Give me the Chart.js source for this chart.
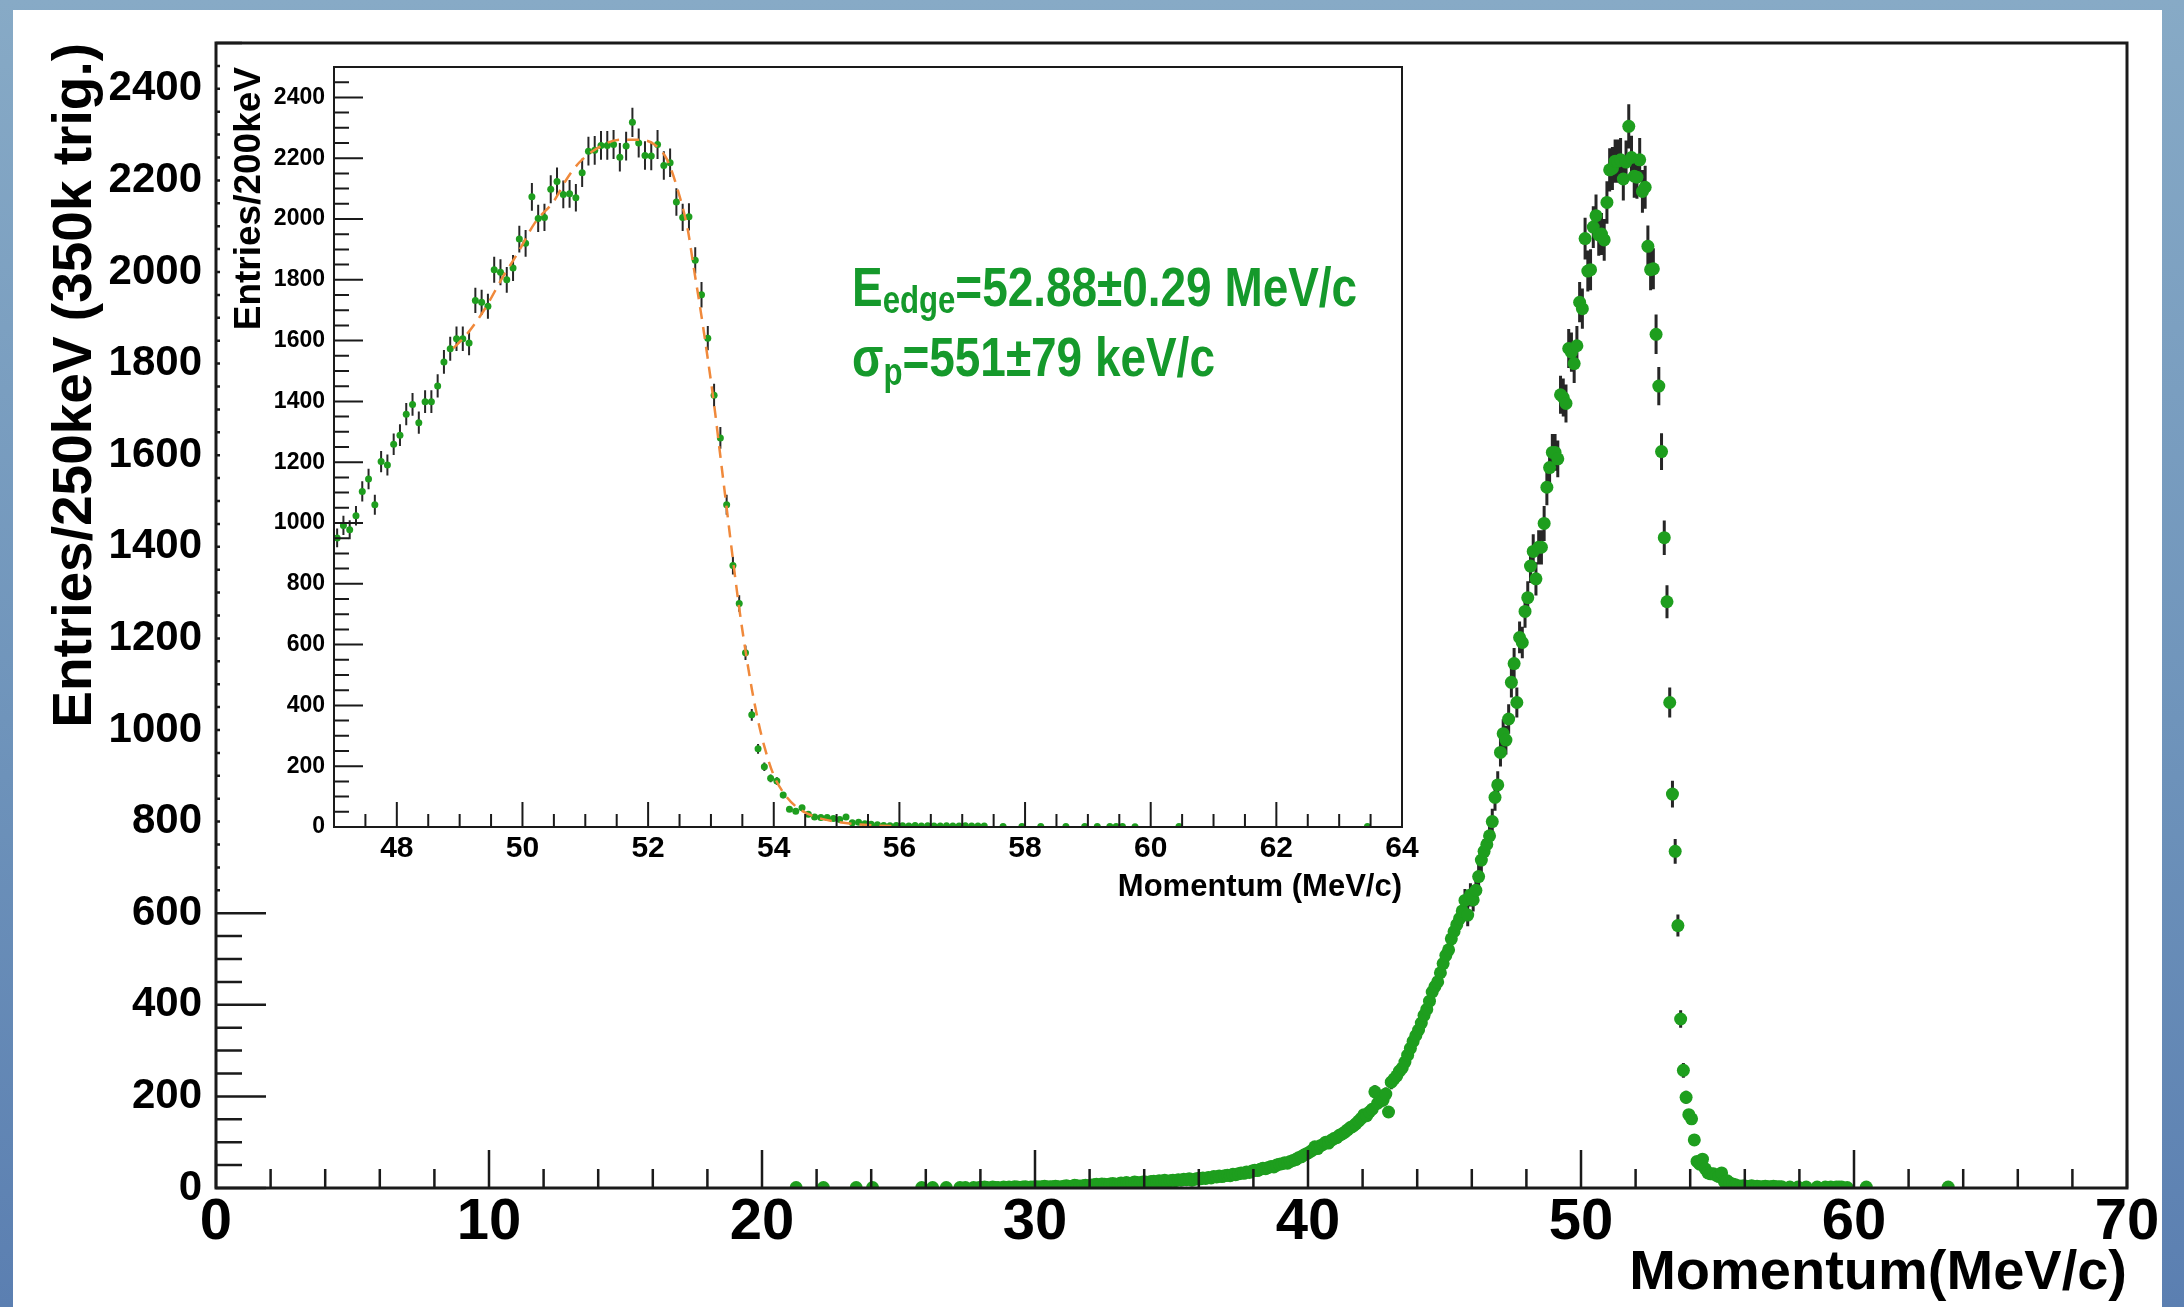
<!DOCTYPE html>
<html>
<head>
<meta charset="utf-8">
<script src="https://cdn.jsdelivr.net/npm/chart.js@4.4.0/dist/chart.umd.min.js"></script>
<style>
  html, body { margin: 0; padding: 0; }
  body {
    width: 2184px; height: 1307px; overflow: hidden; position: relative;
    background: linear-gradient(180deg, #87aac6 0%, #6f94bb 55%, #5b7fb1 100%);
  }
  #painel { position: absolute; left: 13px; top: 10px; width: 2149px; height: 1297px; background: #fff; }
  #graficoPrincipal { position: absolute; left: 0; top: 0; }
  #graficoZoom { position: absolute; left: 220px; top: 45px; background: #fff; }
</style>
</head>
<body>
<div id="painel"></div>
<canvas id="graficoPrincipal" width="2184" height="1307"></canvas>
<canvas id="graficoZoom" width="1200" height="865"></canvas>
<script>
// espectro de momento, bins de 100 keV a partir de 21.0 MeV/c (uma linha por MeV)
const inicioBins = 21.0;
const larguraBin = 0.1;
const contagens = [
  0, 0, 1, 0, 0, 0, 0, 0, 0, 0,            // 21
  0, 0, 1, 0, 0, 0, 0, 0, 0, 0,            // 22
  0, 0, 0, 0, 1, 0, 0, 0, 0, 0,            // 23
  1, 0, 0, 0, 0, 0, 0, 0, 0, 0,            // 24
  0, 0, 0, 0, 0, 0, 0, 0, 1, 0,            // 25
  0, 0, 1, 0, 0, 0, 0, 1, 0, 0,            // 26
  0, 0, 1, 0, 1, 0, 0, 1, 0, 1,            // 27
  1, 2, 1, 0, 2, 1, 1, 0, 2, 1,            // 28
  2, 1, 3, 2, 1, 2, 3, 1, 2, 2,            // 29
  3, 2, 3, 4, 2, 3, 3, 4, 3, 2,            // 30
  4, 5, 3, 4, 6, 5, 4, 5, 6, 5,            // 31
  6, 7, 8, 6, 9, 8, 7, 9, 10, 8,           // 32
  9, 11, 10, 12, 10, 11, 13, 12, 11, 13,   // 33
  13, 12, 14, 15, 13, 16, 15, 17, 14, 16,  // 34
  17, 16, 18, 17, 19, 18, 20, 17, 19, 21,  // 35
  20, 22, 21, 23, 22, 25, 24, 26, 25, 27,  // 36
  28, 27, 30, 29, 31, 33, 32, 35, 34, 37,  // 37
  39, 38, 41, 43, 42, 45, 47, 46, 50, 52,  // 38
  53, 55, 54, 58, 60, 62, 66, 68, 72, 75,  // 39
  78, 82, 90, 86, 92, 95, 100, 98, 104, 108,          // 40
  110, 115, 118, 122, 127, 132, 135, 140, 146, 152,   // 41
  160, 158, 166, 172, 210, 185, 195, 192, 205, 166,   // 42
  231, 238, 245, 255, 262, 275, 290, 305, 320, 333,   // 43
  345, 360, 377, 390, 408, 428, 440, 450, 470, 490,   // 44
  508, 520, 544, 560, 575, 588, 605, 628, 596, 640,   // 45
  629, 650, 680, 716, 735, 750, 769, 800, 853, 880,   // 46
  951, 992, 978, 1024, 1104, 1145, 1060, 1202, 1191, 1259,    // 47
  1289, 1358, 1390, 1330, 1399, 1399, 1451, 1530, 1573, 1606, // 48
  1606, 1592, 1732, 1726, 1713, 1833, 1825, 1800, 1839, 1934, // 49
  1920, 2073, 2002, 2005, 2098, 2123, 2081, 2083, 2070, 2152, // 50
  2223, 2226, 2242, 2242, 2245, 2203, 2240, 2318, 2250, 2209, // 51
  2207, 2245, 2176, 2185, 2056, 2005, 2007, 1864, 1751, 1608, // 52
  1420, 1280, 1060, 860, 735, 573, 369, 257, 198, 160,        // 53
  151, 105, 58, 52, 63, 42, 33, 31, 31, 28,   // 54
  25, 33, 14, 16, 11, 9, 7, 5, 4, 5,          // 55
  4, 3, 5, 3, 4, 3, 3, 4, 3, 3,               // 56
  4, 3, 3, 3, 0, 0, 2, 0, 0, 2,               // 57
  0, 0, 2, 0, 0, 0, 2, 0, 0, 2,               // 58
  0, 2, 0, 2, 2, 2, 0, 1, 0, 0,               // 59
  0, 0, 0, 0, 2, 0, 0, 0, 0, 0,               // 60
  0, 0, 0, 0, 0, 0, 0, 0, 0, 0,               // 61
  0, 0, 0, 0, 0, 0, 0, 0, 0, 0,               // 62
  0, 0, 0, 0, 2, 0, 0, 0, 0, 0,               // 63
];

// curva do ajuste (borda) no detalhe
const ajusteMomento = [48.9, 49.1, 49.4, 49.7, 49.9, 50.2, 50.5, 50.7, 50.9, 51.25, 51.55, 51.85,
  52.1, 52.3, 52.47, 52.63, 52.73, 52.84, 52.95, 53.05, 53.15, 53.25, 53.35, 53.45, 53.55,
  53.65, 53.75, 53.85, 54.0, 54.2, 54.4, 54.6, 54.8, 55.0, 55.3, 55.6, 56.0];
const ajusteValor = [1575, 1617, 1704, 1814, 1879, 1988, 2059, 2130, 2185, 2240, 2261, 2261,
  2245, 2196, 2097, 1966, 1835, 1693, 1540, 1390, 1220, 1050, 880, 720, 580,
  455, 350, 265, 170, 100, 60, 38, 25, 17, 9, 5, 2];

const tituloY = "Entries/250keV (350k trig.)";
const tituloX = "Momentum(MeV/c)";
const tituloYZoom = "Entries/200keV";
const tituloXZoom = "Momentum (MeV/c)";
const linhaEdge = ["E", "edge", "=52.88\u00b10.29 MeV/c"];
const linhaSigma = ["\u03c3", "p", "=551\u00b179 keV/c"];

const fonte = '"Liberation Sans", Arial, Helvetica, sans-serif';
const verde = "#1e9e1e";

const pontos = [];
contagens.forEach((n, i) => {
  if (n > 0) {
    pontos.push({ x: +(inicioBins + larguraBin * (i + 0.5)).toFixed(2), y: n });
  }
});
const pontosZoom = pontos.filter((p) => p.x > 47);
const curvaAjuste = ajusteMomento.map((m, i) => ({ x: m, y: ajusteValor[i] }));

const semSeparador = (v) => String(v);

// moldura e marcas de eixo no estilo ROOT (para dentro)
const marcasEixo = {
  id: "marcasEixo",
  afterDraw(chart, args, opts) {
    const ctx = chart.ctx;
    const area = chart.chartArea;
    const sx = chart.scales.x;
    const sy = chart.scales.y;
    const ehMaior = (v, passo) => Math.abs(v / passo - Math.round(v / passo)) < 1e-6;

    ctx.save();
    ctx.strokeStyle = "#1a1a1a";
    ctx.lineWidth = opts.marca;
    ctx.beginPath();
    for (let k = 0; sx.min + k * opts.x.menor <= sx.max + 1e-9; k++) {
      const v = sx.min + k * opts.x.menor;
      const px = sx.getPixelForValue(v);
      const len = ehMaior(v, opts.x.maior) ? opts.x.tamMaior : opts.x.tamMenor;
      ctx.moveTo(px, area.bottom);
      ctx.lineTo(px, area.bottom - len);
    }
    for (let k = 0; sy.min + k * opts.y.menor <= sy.max + 1e-9; k++) {
      const v = sy.min + k * opts.y.menor;
      const py = sy.getPixelForValue(v);
      const len = ehMaior(v, opts.y.maior) ? opts.y.tamMaior : opts.y.tamMenor;
      ctx.moveTo(area.left, py);
      ctx.lineTo(area.left + len, py);
    }
    ctx.stroke();
    ctx.lineWidth = opts.moldura;
    ctx.strokeRect(area.left, area.top, area.right - area.left, area.bottom - area.top);
    ctx.restore();
  },
};

// barras de erro sqrt(N) desenhadas antes dos marcadores
const barrasErro = {
  id: "barrasErro",
  beforeDatasetsDraw(chart, args, opts) {
    const ctx = chart.ctx;
    const sy = chart.scales.y;
    chart.data.datasets.forEach((ds, i) => {
      if (!ds.comErro) return;
      const meta = chart.getDatasetMeta(i);
      ctx.save();
      ctx.strokeStyle = "#262626";
      ctx.lineWidth = opts.largura;
      ctx.beginPath();
      meta.data.forEach((el, j) => {
        const n = ds.data[j].y;
        const e = Math.sqrt(n);
        ctx.moveTo(el.x, sy.getPixelForValue(n + e));
        ctx.lineTo(el.x, sy.getPixelForValue(n - e));
      });
      ctx.stroke();
      ctx.restore();
    });
  },
};

function escreverLinha(ctx, x, y, partes) {
  ctx.save();
  ctx.translate(x, y);
  ctx.scale(0.82, 1);
  let cx = 0;
  partes.forEach(([texto, tamanho, dy]) => {
    ctx.font = `bold ${tamanho}px ${fonte}`;
    ctx.fillText(texto, cx, dy);
    cx += ctx.measureText(texto).width;
  });
  ctx.restore();
}

const textoAjuste = {
  id: "textoAjuste",
  afterDraw(chart) {
    const ctx = chart.ctx;
    ctx.save();
    ctx.fillStyle = "#15992b";
    ctx.textBaseline = "alphabetic";
    escreverLinha(ctx, 632, 261, [[linhaEdge[0], 56, 0], [linhaEdge[1], 38, 7], [linhaEdge[2], 56, 0]]);
    escreverLinha(ctx, 632, 331, [[linhaSigma[0], 56, 0], [linhaSigma[1], 38, 9], [linhaSigma[2], 56, 0]]);
    ctx.restore();
  },
};

function fixarTamanho(largura, altura) {
  return (scale) => {
    if (largura) scale.width = largura;
    if (altura) scale.height = altura;
    scale.paddingLeft = 0;
    scale.paddingRight = 0;
    scale.paddingTop = 0;
    scale.paddingBottom = 0;
  };
}

new Chart(document.getElementById("graficoPrincipal"), {
  type: "scatter",
  data: {
    datasets: [
      {
        data: pontos,
        comErro: true,
        pointRadius: 6.5,
        pointBorderWidth: 0,
        pointBackgroundColor: verde,
      },
    ],
  },
  options: {
    responsive: false,
    animation: false,
    devicePixelRatio: 1,
    events: [],
    layout: { padding: { left: 0, top: 43, right: 57, bottom: 0 } },
    plugins: {
      legend: { display: false },
      tooltip: { enabled: false },
      barrasErro: { largura: 3 },
      marcasEixo: {
        marca: 2.5,
        moldura: 3,
        x: { menor: 2, maior: 10, tamMenor: 19, tamMaior: 38 },
        y: { menor: 50, maior: 200, tamMenor: 26, tamMaior: 50 },
      },
    },
    scales: {
      x: {
        type: "linear",
        min: 0,
        max: 70,
        grid: { display: false, drawTicks: false },
        border: { display: false },
        ticks: { stepSize: 10, padding: 0, color: "#000", callback: semSeparador, font: { family: fonte, size: 58, weight: "bold" } },
        title: {
          display: true,
          text: tituloX,
          align: "end",
          color: "#000",
          font: { family: fonte, size: 56, weight: "bold" },
          padding: { top: 0, bottom: 0 },
        },
        afterFit: fixarTamanho(null, 119),
      },
      y: {
        type: "linear",
        min: 0,
        max: 2500,
        grid: { display: false, drawTicks: false },
        border: { display: false },
        ticks: { stepSize: 200, includeBounds: false, padding: 14, color: "#000", callback: semSeparador, font: { family: fonte, size: 42, weight: "bold" } },
        title: {
          display: true,
          text: tituloY,
          align: "end",
          color: "#000",
          font: { family: fonte, size: 55, weight: "bold" },
          padding: { top: 43, bottom: 0 },
        },
        afterFit: fixarTamanho(216, null),
      },
    },
  },
  plugins: [barrasErro, marcasEixo],
});

new Chart(document.getElementById("graficoZoom"), {
  type: "scatter",
  data: {
    datasets: [
      {
        type: "line",
        data: curvaAjuste,
        borderColor: "#f0893b",
        borderWidth: 2.5,
        borderDash: [12, 8],
        pointRadius: 0,
        cubicInterpolationMode: "monotone",
      },
      {
        data: pontosZoom,
        comErro: true,
        pointRadius: 3.5,
        pointBorderWidth: 0,
        pointBackgroundColor: verde,
      },
    ],
  },
  options: {
    responsive: false,
    animation: false,
    devicePixelRatio: 1,
    events: [],
    layout: { padding: { left: 0, top: 22, right: 18, bottom: 0 } },
    plugins: {
      legend: { display: false },
      tooltip: { enabled: false },
      barrasErro: { largura: 2 },
      marcasEixo: {
        marca: 2,
        moldura: 2,
        x: { menor: 0.5, maior: 2, tamMenor: 13, tamMaior: 25 },
        y: { menor: 50, maior: 200, tamMenor: 15, tamMaior: 29 },
      },
    },
    scales: {
      x: {
        type: "linear",
        min: 47,
        max: 64,
        grid: { display: false, drawTicks: false },
        border: { display: false },
        ticks: { stepSize: 2, includeBounds: false, padding: 4, color: "#000", callback: semSeparador, font: { family: fonte, size: 30, weight: "bold" } },
        title: {
          display: true,
          text: tituloXZoom,
          align: "end",
          color: "#000",
          font: { family: fonte, size: 31, weight: "bold" },
          padding: { top: 0, bottom: 4 },
        },
        afterFit: fixarTamanho(null, 83),
      },
      y: {
        type: "linear",
        min: 0,
        max: 2500,
        grid: { display: false, drawTicks: false },
        border: { display: false },
        ticks: { stepSize: 200, includeBounds: false, padding: 9, color: "#000", callback: semSeparador, font: { family: fonte, size: 23, weight: "bold" } },
        title: {
          display: true,
          text: tituloYZoom,
          align: "end",
          color: "#000",
          font: { family: fonte, size: 37, weight: "bold" },
          padding: { top: 8, bottom: 0 },
        },
        afterFit: fixarTamanho(114, null),
      },
    },
  },
  plugins: [barrasErro, marcasEixo, textoAjuste],
});
</script>
</body>
</html>
